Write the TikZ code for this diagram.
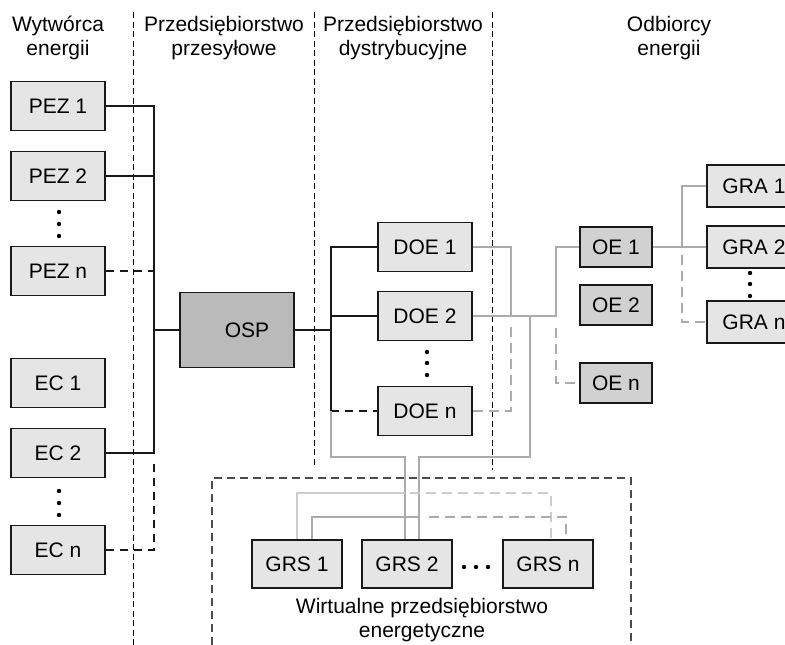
\documentclass[tikz,border=0pt]{standalone}
\usepackage{fontspec}
\setmainfont{Liberation Sans}
\usetikzlibrary{calc}

\begin{document}
\begin{tikzpicture}[x=1pt,y=-1pt,
	box/.style={draw=black!90, line width=1.8pt, fill=black!10, minimum width=94pt, minimum height=49pt, inner sep=0pt, font=\fontsize{21}{24}\selectfont},
	ospbox/.style={box, fill=black!27, minimum width=114pt, minimum height=75pt},
	oebox/.style={box, fill=black!18, minimum width=72pt, minimum height=40pt},
	grabox/.style={box, minimum height=42pt},
	grsbox/.style={box, minimum width=90pt, minimum height=48pt},
	lbl/.style={align=center, font=\fontsize{21}{24}\selectfont},
	conn/.style={line width=1.4pt, black!90},
	conndash/.style={conn, dash pattern=on 8pt off 6pt},
	gline/.style={line width=1.5pt, black!33},
	gdash/.style={gline, dash pattern=on 10pt off 6pt},
	glight/.style={line width=1.5pt, black!20},
	glightdash/.style={glight, dash pattern=on 10pt off 6pt},
	sep/.style={line width=0.9pt, dash pattern=on 6pt off 3.5pt},
	vbox/.style={line width=1.6pt, black!70, dash pattern=on 8pt off 5pt}]
				\clip (0,0) rectangle (785,645);
				
				\draw[sep] (133,12) -- (133,645);
				\draw[sep] (314,12) -- (314,465);
				\draw[sep] (492,12) -- (492,470);
				\draw[vbox] (212,645) -- (212,478) -- (631,478) -- (631,645);
				
				\node[lbl] (hGen) at (58,38) {Wytwórca\\energii};
				\node[lbl] (hTrans) at (224,38) {Przedsiębiorstwo\\przesyłowe};
				\node[lbl] (hDist) at (403,38) {Przedsiębiorstwo\\dystrybucyjne};
				\node[lbl] (hCons) at (669,38) {Odbiorcy\\energii};
				\node[lbl] (hVirt) at (422,620) {Wirtualne przedsiębiorstwo\\energetyczne};
				
				\node[box] (PEZ1) at (58,106) {PEZ 1};
				\node[box] (PEZ2) at (58,176) {PEZ 2};
				\node[box] (PEZn) at (58,271) {PEZ n};
				\node[box] (EC1) at (58,383) {EC 1};
				\node[box] (EC2) at (58,453) {EC 2};
				\node[box] (ECn) at (58,550) {EC n};
				
				\node[ospbox] (OSP) at (237,330) {\hspace*{20pt}OSP};
				
				\node[box] (DOE1) at (425,247) {DOE 1};
				\node[box] (DOE2) at (425,316) {DOE 2};
				\node[box] (DOEn) at (425,411) {DOE n};
				
				\node[oebox] (OE1) at (616,247) {OE 1};
				\node[oebox] (OE2) at (616,305) {OE 2};
				\node[oebox] (OEn) at (616,383) {OE n};
				
				\node[grabox] (GRA1) at (754,186) {GRA 1};
				\node[grabox] (GRA2) at (754,247) {GRA 2};
				\node[grabox] (GRAn) at (754,322) {GRA n};
				
				\node[grsbox] (GRS1) at (297,564) {GRS 1};
				\node[grsbox] (GRS2) at (407,564) {GRS 2};
				\node[grsbox] (GRSn) at (548,564) {GRS n};
				
				\foreach \y in {212,224,236,491,503,515} \fill (59,\y) circle (2.2);
				\foreach \y in {352,363,375} \fill (427,\y) circle (2.2);
				\foreach \y in {273,284,296} \fill (750,\y) circle (2.2);
				\foreach \x in {464,476,488} \fill (\x,567) circle (2.2);
				
				\coordinate (busL) at (154,330);
				\draw[conn] (PEZ1.east) -| (busL) |- (EC2.east);
				\draw[conn] (PEZ2.east) -- (PEZ2.east -| busL);
				\draw[conndash] (PEZn.east) -- (PEZn.east -| busL);
				\draw[conn] (busL) -- (OSP.west);
				\draw[conndash] (ECn.east) -| ($(EC2.east -| busL)+(0,6)$);
				
				\coordinate (busD) at (331,330);
				\draw[conn] (OSP.east) -- (busD);
				\draw[conn] (DOE1.west) -| (busD |- DOEn.west);
				\draw[conn] (DOE2.west) -- (DOE2.west -| busD);
				\draw[conndash] (busD |- DOEn.west) -- (DOEn.west);
				
				\coordinate (jA) at (405,457);
				\coordinate (jB) at (530,457);
				\coordinate (jC) at (419,457);
				\draw[gline] (busD |- DOEn.west) |- (jA) -- (jA |- GRS2.north);
				\draw[gline] (DOE2.east) -| (jB) -- (jC) -- (jC |- GRS2.north);
				\coordinate (jD) at (511,316);
				\draw[gline] (DOE1.east) -| (jD);
				\draw[gdash] (DOEn.east) -| ($(jD)+(0,8)$);
				\coordinate (jE) at (556,316);
				\draw[gline] (DOE2.east) -- (jE) |- (OE1.west);
				\draw[gdash] ($(jE)+(0,12)$) |- (OEn.west);
				\coordinate (jF) at (682,247);
				\draw[gline] (OE1.east) -- (GRA2.west);
				\draw[gline] (jF) |- (GRA1.west);
				\draw[gdash] ($(jF)+(0,8)$) |- (GRAn.west);
				
				\coordinate (jG) at (405,493);
				\coordinate (jH) at (419,517);
				\draw[glight] (GRS1.north) |- (jG);
				\draw[glightdash] ($(jG)+(5,0)$) -| ($(GRSn.north)+(3,0)$);
				\draw[gline] ($(GRS1.north)+(15,0)$) |- (jH);
				\draw[gdash] ($(jH)+(10,0)$) -| ($(GRSn.north)+(18,0)$);
			\end{tikzpicture}
\end{document}
